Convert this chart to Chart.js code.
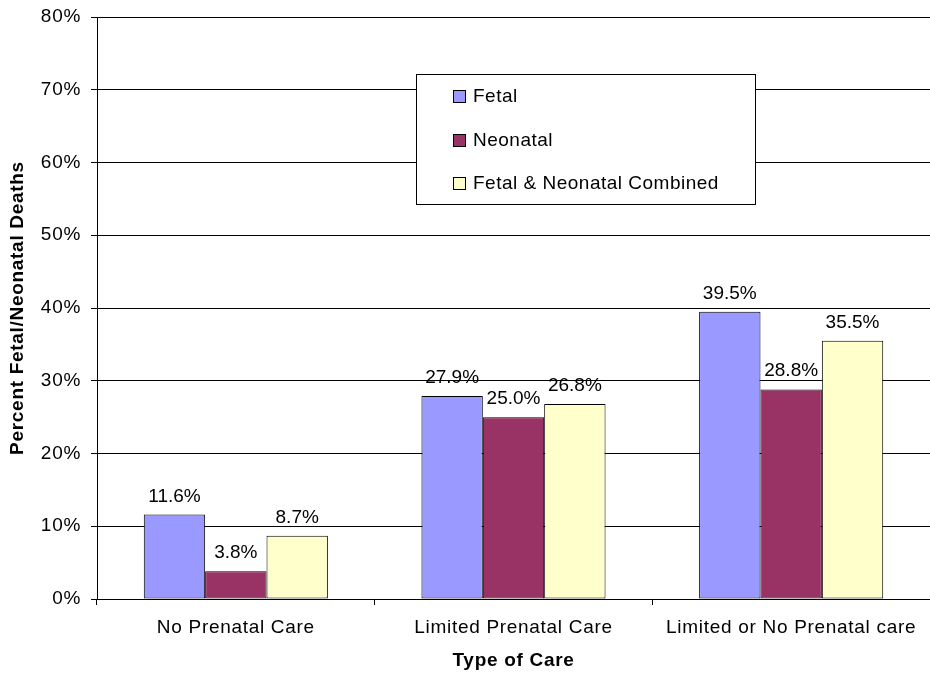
<!DOCTYPE html>
<html>
<head>
<meta charset="utf-8">
<script src="https://cdn.jsdelivr.net/npm/chart.js@4.4.1/dist/chart.umd.min.js"></script>
<style>
    html, body { margin: 0; padding: 0; background: #fff; }
    #chart { display: block; }
</style>
</head>
<body>
<canvas id="chart" width="930" height="677"></canvas>
<script>
// Chart data
const categories = ['No Prenatal Care', 'Limited Prenatal Care', 'Limited or No Prenatal care'];
const seriesNames = ['Fetal', 'Neonatal', 'Fetal & Neonatal Combined'];
const fetal = [11.6, 27.9, 39.5];
const neonatal = [3.8, 25.0, 28.8];
const combined = [8.7, 26.8, 35.5];
const yTicks = [0, 10, 20, 30, 40, 50, 60, 70, 80];

const colors = ['#9999FF', '#993366', '#FFFFCC'];
const FONT = '"Liberation Sans", Arial, sans-serif';

// the original text is set a little wider than Arial
const spacing = {
    id: 'spacing',
    beforeDraw(chart) {
        chart.ctx.letterSpacing = '0.7px';
    }
};

// Value labels above each bar
const barLabels = {
    id: 'barLabels',
    afterDatasetsDraw(chart) {
        const ctx = chart.ctx;
        ctx.save();
        ctx.letterSpacing = '0px';
        ctx.font = '19px ' + FONT;
        ctx.fillStyle = '#000';
        ctx.textAlign = 'center';
        ctx.textBaseline = 'alphabetic';
        chart.data.datasets.forEach((ds, i) => {
            chart.getDatasetMeta(i).data.forEach((bar, j) => {
                ctx.fillText(ds.data[j].toFixed(1) + '%', bar.x, bar.y - 13);
            });
        });
        ctx.restore();
    }
};

// Boxed legend inside the plot area
const boxLegend = {
    id: 'boxLegend',
    afterDraw(chart) {
        const ctx = chart.ctx;
        const x = 416, y = 74, w = 339, h = 130;
        ctx.save();
        ctx.fillStyle = '#fff';
        ctx.fillRect(x, y, w, h);
        ctx.strokeStyle = '#000';
        ctx.lineWidth = 1;
        ctx.strokeRect(x + 0.5, y + 0.5, w, h);
        ctx.font = '19px ' + FONT;
        ctx.letterSpacing = '0.5px';
        ctx.textBaseline = 'middle';
        ctx.textAlign = 'left';
        chart.data.datasets.forEach((ds, i) => {
            const cy = 96 + i * 43.5;
            ctx.fillStyle = ds.backgroundColor;
            ctx.fillRect(453, Math.round(cy - 6), 12, 12);
            ctx.strokeRect(453.5, Math.round(cy - 6) + 0.5, 12, 12);
            ctx.fillStyle = '#000';
            ctx.fillText(ds.label, 473, cy + 1);
        });
        ctx.restore();
    }
};

const ctx = document.getElementById('chart').getContext('2d');
new Chart(ctx, {
    type: 'bar',
    data: {
        labels: categories,
        datasets: [fetal, neonatal, combined].map((values, i) => ({
            label: seriesNames[i],
            data: values,
            backgroundColor: colors[i],
            borderColor: '#000',
            borderWidth: 1,
            borderSkipped: false,
            categoryPercentage: 0.663,
            barPercentage: 1
        }))
    },
    options: {
        responsive: false,
        animation: false,
        devicePixelRatio: 1,
        layout: { padding: { top: 17, right: 0, left: 0, bottom: 0 } },
        plugins: {
            legend: { display: false },
            tooltip: { enabled: false }
        },
        scales: {
            x: {
                grid: {
                    offset: true,
                    drawOnChartArea: false,
                    color: '#000',
                    tickLength: 6
                },
                border: { color: '#000', width: 1 },
                ticks: {
                    color: '#000',
                    font: { family: FONT, size: 19 },
                    padding: 11,
                    maxRotation: 0
                },
                title: {
                    display: true,
                    text: 'Type of Care',
                    color: '#000',
                    font: { family: FONT, size: 19, weight: 'bold' },
                    padding: { top: 0, bottom: 5 }
                },
                afterFit(scale) {
                    scale.height = 78;
                    scale.paddingLeft = 0;
                    scale.paddingRight = 0;
                }
            },
            y: {
                min: 0,
                max: 80,
                afterBuildTicks(scale) {
                    scale.ticks = yTicks.map(v => ({ value: v }));
                },
                grid: {
                    color: '#000',
                    tickLength: 6
                },
                border: { color: '#000', width: 1 },
                ticks: {
                    color: '#000',
                    font: { family: FONT, size: 19 },
                    padding: 10,
                    callback: v => v + '%'
                },
                title: {
                    display: true,
                    text: 'Percent Fetal/Neonatal Deaths',
                    color: '#000',
                    font: { family: FONT, size: 19, weight: 'bold' },
                    padding: { top: 6, bottom: 0 }
                },
                afterFit(scale) {
                    scale.width = 97;
                    scale.paddingTop = 0;
                    scale.paddingBottom = 0;
                }
            }
        }
    },
    plugins: [spacing, barLabels, boxLegend]
});
</script>
</body>
</html>
